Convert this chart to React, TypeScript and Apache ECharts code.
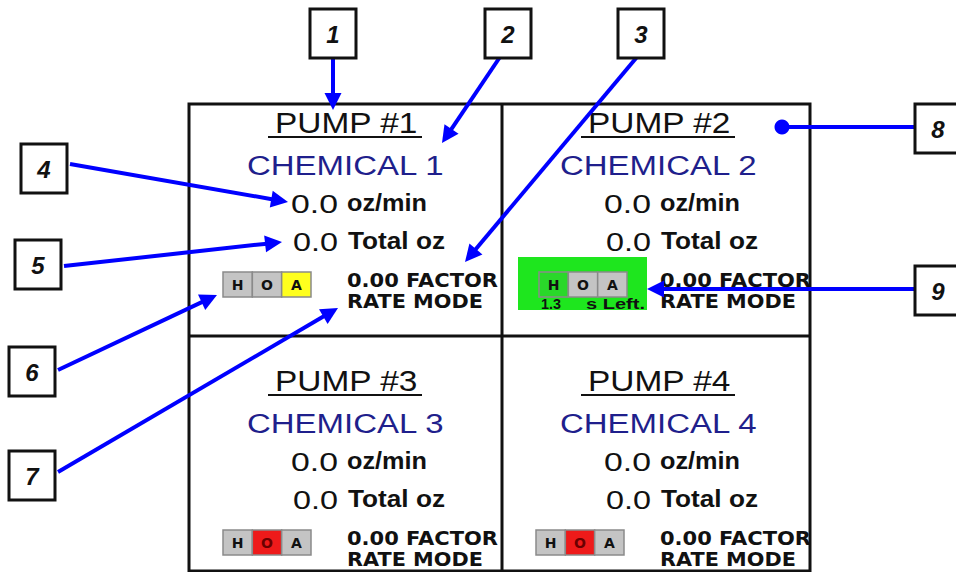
import React, { useEffect, useRef } from "react";
import * as echarts from "echarts";

// ---------- data ----------
const pumpTitles = ["PUMP #1", "PUMP #2", "PUMP #3", "PUMP #4"];
const chemicals = ["CHEMICAL 1", "CHEMICAL 2", "CHEMICAL 3", "CHEMICAL 4"];
const rates = [0.0, 0.0, 0.0, 0.0];
const rateUnit = "oz/min";
const totals = [0.0, 0.0, 0.0, 0.0];
const totalUnit = "Total oz";
const factors = [0.0, 0.0, 0.0, 0.0];
const factorUnit = "FACTOR";
const modes = ["RATE MODE", "RATE MODE", "RATE MODE", "RATE MODE"];
const hoaLetters = ["H", "O", "A"];
const hoaActive = ["A", "H", "O", "O"];
const countdowns: (string | null)[] = [null, "1.3", null, null];
const countdownUnit = "s Left.";
const calloutLabels = ["1", "2", "3", "4", "5", "6", "7", "8", "9"];

// ---------- layout ----------
const PANEL_X = [189, 502, 189, 502];
const PANEL_Y = [104, 104, 362, 362];
const FRAME = { x1: 189, y1: 104, x2: 810, y2: 571, midX: 502, midY: 336 };
const CALLOUT_LAYOUT = [
  { box: [310, 9], from: [333, 57], to: [333, 110], head: "arrow" },
  { box: [485, 9], from: [500, 57], to: [442, 143], head: "arrow" },
  { box: [618, 9], from: [637, 57], to: [465, 262], head: "arrow" },
  { box: [21, 144], from: [70, 164], to: [288, 202], head: "arrow" },
  { box: [15, 240], from: [64, 266], to: [282, 242], head: "arrow" },
  { box: [9, 347], from: [58, 370], to: [217, 295], head: "arrow" },
  { box: [9, 451], from: [58, 472], to: [338, 308], head: "arrow" },
  { box: [915, 104], from: [915, 127], to: [782, 127], head: "dot" },
  { box: [915, 266], from: [915, 289], to: [647, 289], head: "arrow" },
];
const BLUE = "#0000ff";
const NAVY = "#1f1f8c";
const SANS = "Liberation Sans";
const WIDE = "DejaVu Sans";

let measureCtx: CanvasRenderingContext2D | null = null;
function measure(text: string, font: string) {
  if (!measureCtx) measureCtx = document.createElement("canvas").getContext("2d");
  measureCtx!.font = font;
  return measureCtx!.measureText(text).width;
}

function fitText(
  text: string,
  x: number,
  cy: number,
  width: number,
  size: number,
  family: string,
  weight: string,
  fill: string,
  fontStyle = "normal"
) {
  const w = measure(text, `${fontStyle} ${weight} ${size}px "${family}"`);
  return {
    type: "text",
    x,
    y: cy,
    scaleX: w > 0 ? width / w : 1,
    style: {
      text,
      fontSize: size,
      fontFamily: family,
      fontWeight: weight,
      fontStyle,
      fill,
      align: "left",
      verticalAlign: "middle",
    },
  };
}

function stateColor(letter: string) {
  if (letter === "A") return "#ffff1e";
  if (letter === "O") return "#ee1a1a";
  return "#2ad82a";
}

function buildPanel(i: number) {
  const px = PANEL_X[i];
  const py = PANEL_Y[i];
  const els: any[] = [];
  // title
  els.push(fitText(pumpTitles[i], px + 86, py + 19.5, 143, 29, SANS, "normal", "#111"));
  els.push({
    type: "line",
    shape: { x1: px + 79, y1: py + 33, x2: px + 233, y2: py + 33 },
    style: { stroke: "#111", lineWidth: 2 },
  });
  els.push(fitText(chemicals[i], px + 58, py + 61, 198, 28, SANS, "normal", NAVY));
  els.push(fitText(rates[i].toFixed(1), px + 102, py + 100, 47, 25, SANS, "normal", "#111"));
  els.push(fitText(rateUnit, px + 158, py + 99, 80, 23, SANS, "bold", "#111"));
  els.push(fitText(totals[i].toFixed(1), px + 104, py + 138, 45, 25, SANS, "normal", "#111"));
  els.push(fitText(totalUnit, px + 159, py + 137.5, 97, 23, SANS, "bold", "#111"));
  els.push(fitText(`${factors[i].toFixed(2)} ${factorUnit}`, px + 158, py + 176, 151, 19, WIDE, "bold", "#111"));
  els.push(fitText(modes[i], px + 158, py + 198, 136, 19, WIDE, "bold", "#111"));

  // countdown green box
  if (countdowns[i]) {
    els.push({
      type: "rect",
      shape: { x: px + 16, y: py + 153, width: 129, height: 53 },
      style: { fill: "#1ee61e" },
    });
    els.push(fitText(countdowns[i] as string, px + 39, py + 200.5, 20, 14, SANS, "bold", "#111"));
    els.push(fitText(countdownUnit, px + 84, py + 200.5, 59, 14, SANS, "bold", "#111"));
  }

  // HOA selector
  const hx = px + (countdowns[i] ? 37 : 34);
  const hy = py + 168;
  const cw = 88 / 3;
  hoaLetters.forEach((L, k) => {
    const active = hoaActive[i] === L;
    const fill = active ? stateColor(L) : "#c4c4c4";
    els.push({
      type: "rect",
      shape: { x: hx + k * cw, y: hy, width: cw, height: 25 },
      style: { fill, stroke: "#8a8a8a", lineWidth: 1.5 },
    });
    els.push({
      type: "text",
      x: hx + k * cw + cw / 2,
      y: hy + 13,
      style: {
        text: L,
        fontSize: 14,
        fontFamily: WIDE,
        fontWeight: "bold",
        fill: active && L === "O" ? "#6a0000" : "#111",
        align: "center",
        verticalAlign: "middle",
      },
    });
  });
  return els;
}

function buildCallout(i: number) {
  const c = CALLOUT_LAYOUT[i];
  const els: any[] = [];
  const [fx, fy] = c.from;
  const [tx, ty] = c.to;
  if (c.head === "arrow") {
    const dx = tx - fx;
    const dy = ty - fy;
    const len = Math.hypot(dx, dy);
    const ux = dx / len;
    const uy = dy / len;
    const L = 17;
    const W = 8.5;
    const bx = tx - ux * L;
    const by = ty - uy * L;
    els.push({
      type: "line",
      shape: { x1: fx, y1: fy, x2: bx + ux * 2, y2: by + uy * 2 },
      style: { stroke: BLUE, lineWidth: 4 },
    });
    els.push({
      type: "polygon",
      shape: {
        points: [
          [tx, ty],
          [bx - uy * W, by + ux * W],
          [bx + uy * W, by - ux * W],
        ],
      },
      style: { fill: BLUE },
    });
  } else {
    els.push({
      type: "line",
      shape: { x1: fx, y1: fy, x2: tx, y2: ty },
      style: { stroke: BLUE, lineWidth: 4 },
    });
    els.push({ type: "circle", shape: { cx: tx, cy: ty, r: 7.5 }, style: { fill: BLUE } });
  }
  const [bx0, by0] = c.box;
  els.push({
    type: "rect",
    shape: { x: bx0, y: by0, width: 46, height: 49 },
    style: { fill: "#fff", stroke: "#111", lineWidth: 3 },
  });
  els.push({
    type: "text",
    x: bx0 + 23,
    y: by0 + 25,
    style: {
      text: calloutLabels[i],
      fontSize: 24,
      fontFamily: SANS,
      fontWeight: "bold",
      fontStyle: "italic",
      fill: "#111",
      align: "center",
      verticalAlign: "middle",
    },
  });
  return els;
}

export default function App() {
  const ref = useRef<HTMLDivElement>(null);
  useEffect(() => {
    if (!ref.current) return;
    const chart = echarts.init(ref.current, null, { renderer: "svg" });
    const elements: any[] = [];
    elements.push({
      type: "rect",
      shape: { x: 0, y: 0, width: 956, height: 572 },
      style: { fill: "#ffffff" },
    });
    for (let i = 0; i < 4; i++) elements.push(...buildPanel(i));
    // mask anything spilling over the right edge of the frame
    elements.push({
      type: "rect",
      shape: { x: FRAME.x2 + 1, y: FRAME.y1, width: 30, height: FRAME.y2 - FRAME.y1 },
      style: { fill: "#ffffff" },
    });
    // frame
    elements.push({
      type: "rect",
      shape: { x: FRAME.x1, y: FRAME.y1, width: FRAME.x2 - FRAME.x1, height: FRAME.y2 - FRAME.y1 },
      style: { fill: "none", stroke: "#111", lineWidth: 3 },
    });
    elements.push({
      type: "line",
      shape: { x1: FRAME.midX, y1: FRAME.y1, x2: FRAME.midX, y2: FRAME.y2 },
      style: { stroke: "#111", lineWidth: 3 },
    });
    elements.push({
      type: "line",
      shape: { x1: FRAME.x1, y1: FRAME.midY, x2: FRAME.x2, y2: FRAME.midY },
      style: { stroke: "#111", lineWidth: 3 },
    });
    for (let i = 0; i < calloutLabels.length; i++) elements.push(...buildCallout(i));

    chart.setOption({
      animation: false,
      backgroundColor: "#ffffff",
      graphic: { elements },
    });
    return () => chart.dispose();
  }, []);
  return (
    <div
      ref={ref}
      style={{ position: "fixed", left: 0, top: 0, width: 956, height: 572 }}
    />
  );
}
